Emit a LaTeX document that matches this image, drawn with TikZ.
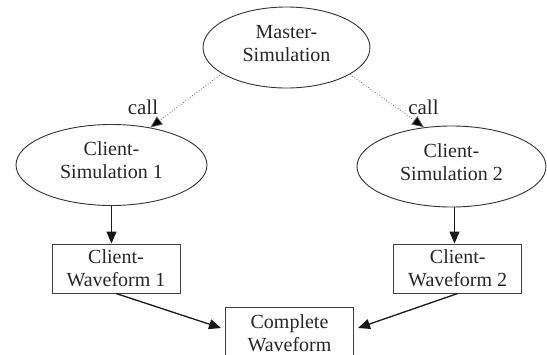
\documentclass[tikz,border=0pt]{standalone}
\usepackage{fontspec}
\setmainfont{Liberation Serif}
\usetikzlibrary{shapes.geometric,arrows.meta,calc}
\begin{document}
\begin{tikzpicture}[x=1pt,y=-1pt,
  every node/.style={font=\fontsize{20}{23}\selectfont, text=black!85, align=center, inner sep=0pt},
  ell/.style={ellipse, draw=black!80, line width=0.9pt, minimum width=#1, minimum height=81pt, text depth=9pt},
  wbox/.style={rectangle, draw=black!75, line width=1pt, minimum width=128pt, minimum height=49pt},
  solidarr/.style={draw=black!90, line width=1.3pt, -{Triangle[length=12pt,width=10pt]}},
  dotarr/.style={draw=black!60, line width=0.8pt, dotted, -{Triangle[length=12pt,width=10pt,fill=black]}},
  lbl/.style={font=\fontsize{21}{24}\selectfont}
]
\useasboundingbox (0,0) rectangle (547,354);
\clip (0,0) rectangle (547,354);
\node[ell=167pt] (m) at (286.5,47.5) {Master-\\Simulation};
\node[ell=191pt] (c1) at (111.5,165) {Client-\\Simulation 1};
\node[ell=189pt] (c2) at (451.5,166.5) {Client-\\Simulation 2};
\node[wbox] (w1) at (116,268.5) {Client-\\Waveform 1};
\node[wbox] (w2) at (457.7,268.5) {Client-\\Waveform 2};
\node[wbox, minimum height=52pt, anchor=north] (cw) at (289.5,307) {Complete\\Waveform};
\path[dotarr] (m.202) -- (c1.44);
\path[dotarr] (m.337) -- (c2.125);
\node[lbl] (l1) at (143,107) {call};
\node[lbl] (l2) at (423.5,107) {call};
\path[solidarr] (c1.south) -- (c1.south |- w1.north);
\path[solidarr] ($(c2.south)+(3,0)$) -- ($(c2.south |- w2.north)+(3,0)$);
\coordinate (t1) at ($(cw.north west)+(-4,21)$);
\coordinate (t2) at ($(cw.north east)+(4,21)$);
\path[solidarr] (w1.south) -- (t1);
\path[solidarr] (w2.south) -- (t2);
\end{tikzpicture}
\end{document}
